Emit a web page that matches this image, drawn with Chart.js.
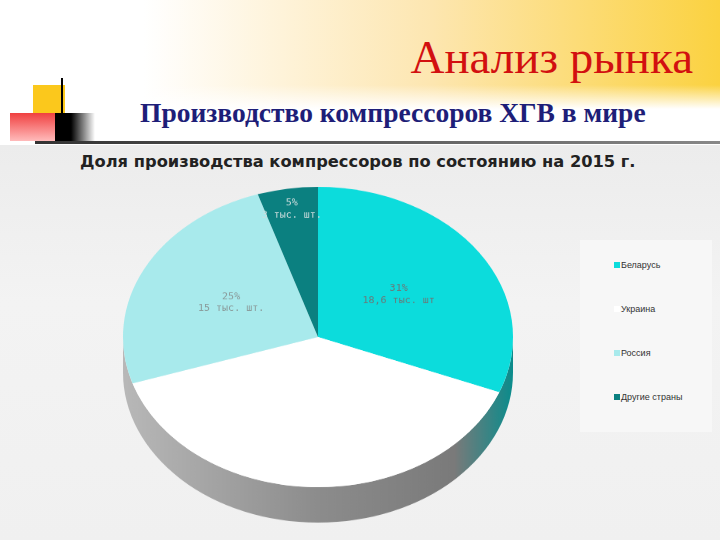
<!DOCTYPE html>
<html><head><meta charset="utf-8">
<script src="https://cdn.jsdelivr.net/npm/chart.js@4"></script>
<style>
body{margin:0;width:720px;height:540px;overflow:hidden;position:relative;background:#fff;font-family:"DejaVu Sans",sans-serif}
#top{position:absolute;left:0;top:0;width:720px;height:125px;background:linear-gradient(90deg,#fff 0%,#fff 20%,#fde6b0 60%,#fbd240 100%)}
#top2{position:absolute;left:0;top:85px;width:720px;height:60px;background:linear-gradient(180deg,rgba(255,255,255,0),#fff 40%)}
#panel{position:absolute;left:0;top:145px;width:720px;height:395px;background:linear-gradient(180deg,#ececec,#f3f3f3 40%,#f0f0f0)}
#legend{position:absolute;left:580px;top:240px;width:132px;height:192px;background:#f7f7f7}
.li{position:absolute;left:34px;font-size:9px;color:#333;font-family:"Liberation Sans",sans-serif}
.li span{display:inline-block;width:6px;height:6px;margin-right:1px}
#canvas{position:absolute;left:108px;top:183px;transform:scaleY(0.77);transform-origin:0 0}
</style></head><body>
<div id="top"></div><div id="top2"></div>
<div style="position:absolute;left:33px;top:85px;width:32px;height:56px;background:#fbc81c"></div>
<div style="position:absolute;left:10px;top:113px;width:46px;height:28px;background:linear-gradient(180deg,#f04040,#fbb)"></div>
<div style="position:absolute;left:55px;top:113px;width:40px;height:28px;background:linear-gradient(90deg,#000,#000 40%,rgba(0,0,0,0))"></div>
<div style="position:absolute;left:61px;top:78px;width:2px;height:65px;background:#000"></div>
<div style="position:absolute;left:35px;top:141px;width:685px;height:3px;background:linear-gradient(90deg,#333,#888)"></div>
<div style="position:absolute;right:27px;top:30px;font:47px 'Liberation Serif',serif;color:#d21010">Анализ рынка</div>
<div style="position:absolute;left:140px;top:97px;font:bold 27.5px 'Liberation Serif',serif;color:#1e1e78">Производство компрессоров ХГВ в мире</div>
<div id="panel"></div>
<div style="position:absolute;left:80px;top:152px;font:bold 16.3px 'DejaVu Sans',sans-serif;color:#222">Доля производства компрессоров по состоянию на 2015 г.</div>
<div id="legend"></div>
<canvas id="canvas" width="420" height="460"></canvas>
<script>
const countries = ["Беларусь", "Украина", "Россия", "Другие страны"];
const shares = [31, 39, 25, 5];
const amounts = ["18,6 тыс. шт", "23,4 тыс. шт.", "15 тыс. шт.", "3 тыс. шт."];
const colors = ["#0cdcdc", "#ffffff", "#a8eaec", "#0b8080"];
const labelColors = ["#6a7a7a", "#ffffff", "#8a9a9a", "#cfdede"];

const legendTops = [20, 64, 108, 152];
const lg = document.getElementById("legend");
countries.forEach((c, i) => {
  const d = document.createElement("div");
  d.className = "li";
  d.style.top = legendTops[i] + "px";
  d.innerHTML = '<span style="background:' + colors[i] + '"></span>' + c;
  lg.appendChild(d);
});

const DEPTH = 46;
const depthPlugin = {
  id: "depth",
  beforeDatasetsDraw(chart) {
    const arc = chart.getDatasetMeta(0).data[0];
    const { x, y, outerRadius: r } = arc;
    const ctx = chart.ctx;
    const g = ctx.createLinearGradient(x - r, 0, x + r, 0);
    g.addColorStop(0, "#b8b8b8");
    g.addColorStop(0.5, "#8c8c8c");
    g.addColorStop(0.85, "#7a7a7a");
    g.addColorStop(1, "#0a8c8c");
    ctx.save();
    ctx.fillStyle = g;
    ctx.beginPath();
    ctx.arc(x, y + DEPTH, r, 0, Math.PI);
    ctx.lineTo(x - r, y);
    ctx.arc(x, y, r, Math.PI, 0, true);
    ctx.closePath();
    ctx.fill();
    ctx.restore();
  },
  afterDatasetsDraw(chart) {
    const ctx = chart.ctx;
    chart.getDatasetMeta(0).data.forEach((a, i) => {
      const mid = (a.startAngle + a.endAngle) / 2;
      const rr = a.outerRadius * (i === 3 ? 0.86 : 0.5);
      const px = a.x + Math.cos(mid) * rr;
      const py = a.y + Math.sin(mid) * rr;
      ctx.save();
      ctx.translate(px, py);
      ctx.scale(1, 1 / 0.77);
      ctx.fillStyle = labelColors[i];
      ctx.font = "10px 'DejaVu Sans Mono', monospace";
      ctx.textAlign = "center";
      ctx.fillText(shares[i] + "%", 0, -4);
      ctx.fillText(amounts[i], 0, 8);
      ctx.restore();
    });
  }
};

new Chart(document.getElementById("canvas"), {
  type: "pie",
  data: {
    labels: countries,
    datasets: [{ data: shares, backgroundColor: colors, borderWidth: 0 }]
  },
  options: {
    responsive: false,
    animation: false,
    layout: { padding: { left: 15, right: 15, top: 5, bottom: 65 } },
    plugins: { legend: { display: false }, tooltip: { enabled: false } }
  },
  plugins: [depthPlugin]
});
</script>
</body></html>
